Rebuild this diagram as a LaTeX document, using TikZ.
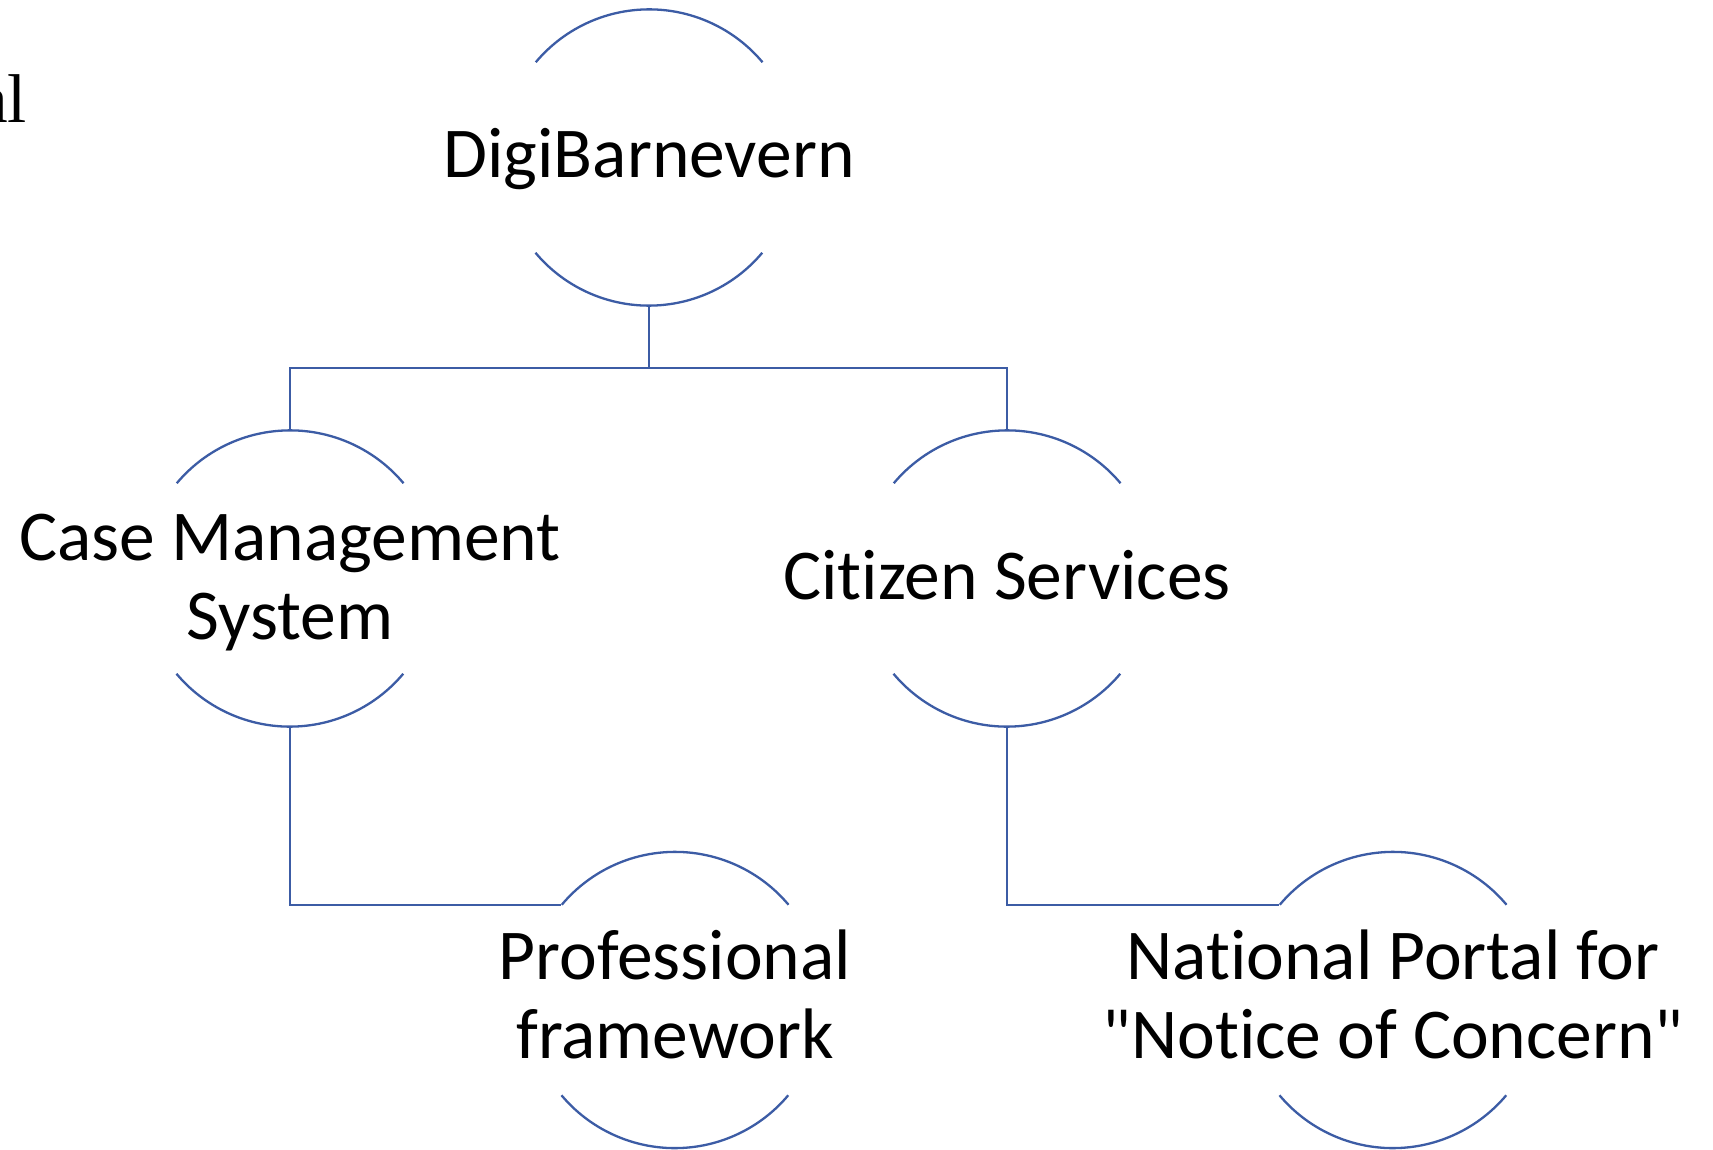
\documentclass[tikz,border=0pt]{standalone}
\usepackage{fontspec}
\setmainfont{Carlito}
\newfontfamily\calib[Ligatures={NoCommon,NoContextual},Contextuals={NoAlternate}]{Carlito}
\newfontfamily\serifalt{Liberation Serif}
\definecolor{ringblue}{HTML}{3C5CA5}
\begin{document}
\begin{tikzpicture}[x=1pt,y=-1pt,
  ring/.style={circle, draw=none, minimum size=296pt, inner sep=0pt},
  arcline/.style={draw=ringblue, line width=2.3pt},
  conn/.style={draw=ringblue, line width=2.3pt},
  lbl/.style={inner sep=0pt, align=center, font=\calib\fontsize{71.5}{79}\selectfont}]
\path[use as bounding box, clip] (0,0) rectangle (1713,1150);
\fill[white] (0,0) rectangle (1713,1150);

\node[ring] (d) at (649,157.5) {};
\node[ring] (c1) at (290,578.5) {};
\node[ring] (c2) at (1007,578.5) {};
\node[ring] (p) at (675,1000) {};
\node[ring] (n) at (1393,1000) {};

\foreach \r in {d,c1,c2,p,n}{
  \draw[arcline] (\r.40) arc[start angle=40, end angle=140, radius=148pt];
  \draw[arcline] (\r.220) arc[start angle=220, end angle=320, radius=148pt];
}

\node[lbl, anchor=base] (dt) at (649,178) {DigiBarnevern};
\node[lbl, anchor=base] (c1t) at (290,639) {Case Management\\System};
\node[lbl, anchor=base] (c2t) at (1007,599) {Citizen Services};
\node[lbl, anchor=base] (pt) at (675,1058) {Professional\\framework};
\node[lbl, anchor=base] (nt) at (1393,1058) {National Portal for\\"Notice of Concern"};

\node[inner sep=0pt, anchor=base east, font=\serifalt\fontsize{69}{80}\selectfont] (al) at (27,123) {al};

\coordinate (j) at (649,368);
\draw[conn] (d.south) -- (j) -| (c1.north);
\draw[conn] (j) -| (c2.north);
\draw[conn] (c1.south) |- (p.140);
\draw[conn] (c2.south) |- (n.140);
\end{tikzpicture}
\end{document}
